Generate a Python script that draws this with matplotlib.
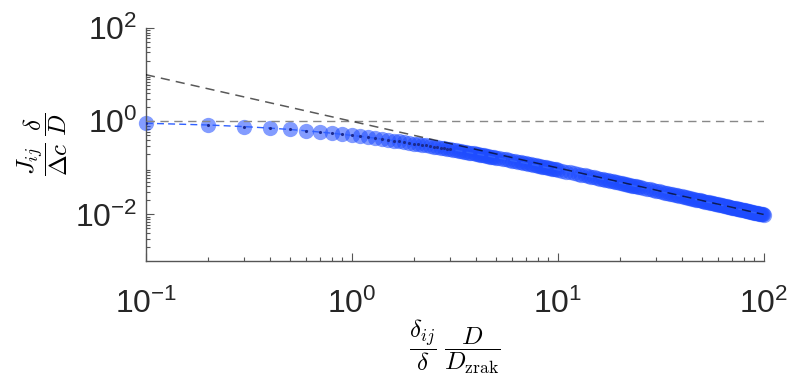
import matplotlib.pyplot as plt
from matplotlib.ticker import LogLocator, NullFormatter

plt.rcParams["font.family"] = "Liberation Sans"
plt.rcParams["mathtext.fontset"] = "cm"

# normalised distance (x) and normalised flux (y)
x_data = [
    0.1, 0.2, 0.3, 0.4, 0.5, 0.6, 0.7, 0.8, 0.9, 1.0,
    1.1, 1.2, 1.3, 1.4, 1.5, 1.6, 1.7, 1.8, 1.9, 2.0,
    2.1, 2.2, 2.3, 2.4, 2.5, 2.6, 2.7, 2.8, 2.9, 3.0,
    3.1, 3.2, 3.3, 3.4, 3.5, 3.6, 3.7, 3.8, 3.9, 4.0,
    4.1, 4.2, 4.3, 4.4, 4.5, 4.6, 4.7, 4.8, 4.9, 5.0,
    5.2, 5.4, 5.6, 5.8, 6.0, 6.2, 6.4, 6.6, 6.8, 7.0,
    7.2, 7.4, 7.6, 7.8, 8.0, 8.2, 8.4, 8.6, 8.8, 9.0,
    9.2, 9.4, 9.6, 9.8, 10.0,
    10.5, 11, 11.5, 12, 12.5, 13, 13.5, 14, 14.5, 15,
    15.5, 16, 16.5, 17, 17.5, 18, 18.5, 19, 19.5, 20,
    20.5, 21, 21.5, 22, 22.5, 23, 23.5, 24, 24.5, 25,
    26, 27, 28, 29, 30, 31, 32, 33, 34, 35,
    36, 37, 38, 39, 40, 41, 42, 43, 44, 45,
    46, 47, 48, 49, 50, 51, 52, 53, 54, 55,
    56, 57, 58, 59, 60, 61, 62, 63, 64, 65,
    66, 67, 68, 69, 70, 71, 72, 73, 74, 75,
    76, 77, 78, 79, 80, 81, 82, 83, 84, 85,
    86, 87, 88, 89, 90, 91, 92, 93, 94, 95,
    96, 97, 98, 99, 100,
]
y_data = [
    0.909, 0.833, 0.769, 0.714, 0.667, 0.625, 0.588, 0.556, 0.526, 0.500,
    0.476, 0.455, 0.435, 0.417, 0.400, 0.385, 0.370, 0.357, 0.345, 0.333,
    0.323, 0.313, 0.303, 0.294, 0.286, 0.278, 0.270, 0.263, 0.256, 0.250,
    0.244, 0.238, 0.233, 0.227, 0.222, 0.217, 0.213, 0.208, 0.204, 0.200,
    0.196, 0.192, 0.189, 0.185, 0.182, 0.179, 0.175, 0.172, 0.169, 0.167,
    0.161, 0.156, 0.152, 0.147, 0.143, 0.139, 0.135, 0.132, 0.128, 0.125,
    0.122, 0.119, 0.116, 0.114, 0.111, 0.109, 0.106, 0.104, 0.102, 0.100,
    0.0980, 0.0962, 0.0943, 0.0926, 0.0909,
    0.0870, 0.0833, 0.0800, 0.0769, 0.0741, 0.0714, 0.0690, 0.0667, 0.0645, 0.0625,
    0.0606, 0.0588, 0.0571, 0.0556, 0.0541, 0.0526, 0.0513, 0.0500, 0.0488, 0.0476,
    0.0465, 0.0455, 0.0444, 0.0435, 0.0426, 0.0417, 0.0408, 0.0400, 0.0392, 0.0385,
    0.0370, 0.0357, 0.0345, 0.0333, 0.0323, 0.0313, 0.0303, 0.0294, 0.0286, 0.0278,
    0.0270, 0.0263, 0.0256, 0.0250, 0.0244, 0.0238, 0.0233, 0.0227, 0.0222, 0.0217,
    0.0213, 0.0208, 0.0204, 0.0200, 0.0196, 0.0192, 0.0189, 0.0185, 0.0182, 0.0179,
    0.0175, 0.0172, 0.0169, 0.0167, 0.0164, 0.0161, 0.0159, 0.0156, 0.0154, 0.0152,
    0.0149, 0.0147, 0.0145, 0.0143, 0.0141, 0.0139, 0.0137, 0.0135, 0.0133, 0.0132,
    0.0130, 0.0128, 0.0127, 0.0125, 0.0123, 0.0122, 0.0120, 0.0119, 0.0118, 0.0116,
    0.0115, 0.0114, 0.0112, 0.0111, 0.0110, 0.0109, 0.0108, 0.0106, 0.0105, 0.0104,
    0.0103, 0.0102, 0.0101, 0.0100, 0.0099,
]

# asymptotes: plateau y = 1 and far-field y = 1/x
asym_x = [0.1, 100]
plateau_y = [1, 1]
farfield_y = [10, 0.01]

xlim = (0.1, 100)
ylim = (1e-3, 1e2)
xticks = [0.1, 1, 10, 100]
yticks = [1e-2, 1, 1e2]

fig = plt.figure(figsize=(7.93, 3.8), dpi=100)
ax = fig.add_axes([0.184, 0.313, 0.779, 0.613])

ax.plot(x_data, y_data, "o", color="#1e4cff", alpha=0.55, markersize=11,
        markeredgewidth=0, clip_on=False, zorder=2)
ax.plot(x_data, y_data, "--", color="#3060ff", linewidth=1.0, dashes=(5, 3),
        zorder=3)
ax.plot(x_data[:30], y_data[:30], ".", color="#1a2a90", markersize=2.5,
        zorder=3)

ax.plot(asym_x, plateau_y, "--", color="#888888", linewidth=1.0, dashes=(6, 4),
        zorder=4)
ax.plot(asym_x, farfield_y, "--", color="black", alpha=0.65, linewidth=1.1,
        dashes=(6, 4), zorder=4)

ax.set_xscale("log")
ax.set_yscale("log")
ax.set_xlim(xlim)
ax.set_ylim(ylim)
ax.set_xticks(xticks)
ax.set_yticks(yticks)
ax.xaxis.set_minor_locator(LogLocator(base=10, subs=range(2, 10), numticks=20))
ax.yaxis.set_minor_locator(LogLocator(base=10, subs=range(2, 10), numticks=20))
ax.xaxis.set_minor_formatter(NullFormatter())
ax.yaxis.set_minor_formatter(NullFormatter())

for side in ["top", "right"]:
    ax.spines[side].set_visible(False)
for side in ["left", "bottom"]:
    ax.spines[side].set_color("#555555")
    ax.spines[side].set_linewidth(1.0)

ax.tick_params(which="both", direction="in", color="#555555", width=0.8)
ax.tick_params(which="major", length=6, labelsize=23, labelcolor="#262626")
ax.tick_params(which="minor", length=3)
ax.tick_params(axis="x", which="major", pad=20)
ax.tick_params(axis="y", which="major", pad=6)

ax.set_xlabel(r"$\dfrac{\delta_{ij}}{\delta}\;\dfrac{D}{D_{\rm zrak}}$",
              fontsize=18, labelpad=-2)
ax.set_ylabel(r"$\dfrac{J_{ij}}{\Delta c}\;\dfrac{\delta}{D}$",
              fontsize=18, labelpad=4)

fig.savefig("out.png", dpi=100)
